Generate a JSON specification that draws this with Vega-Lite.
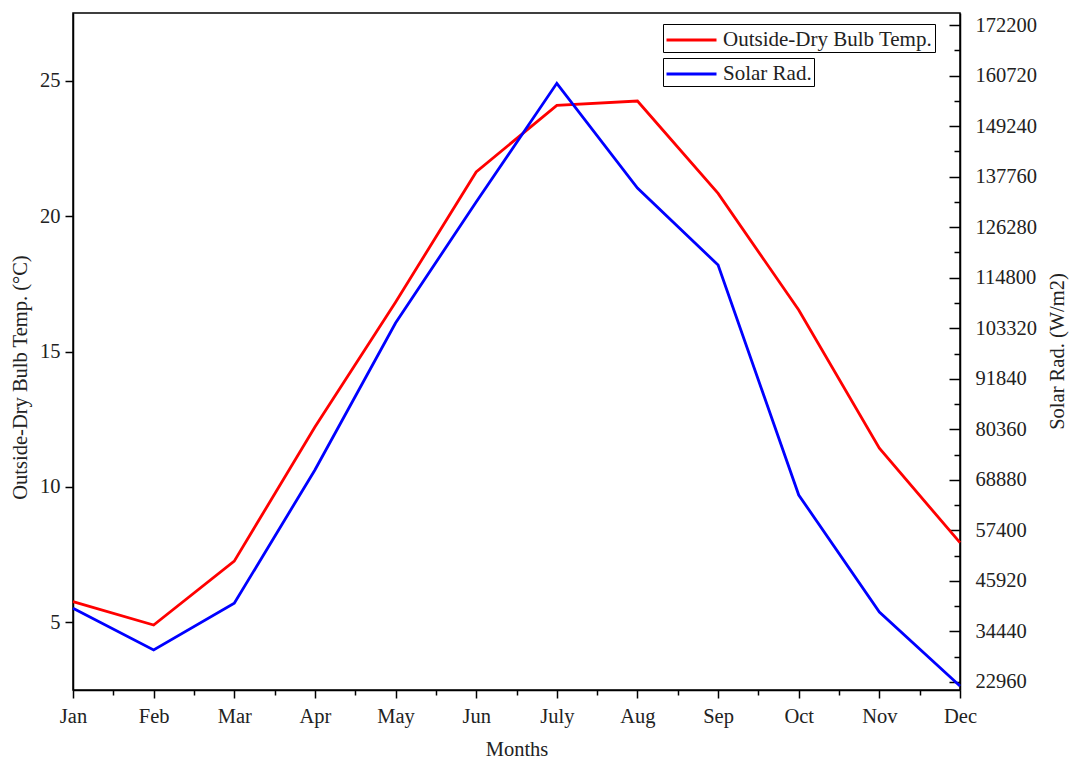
{
  "$schema": "https://vega.github.io/schema/vega-lite/v6.json",
  "width": 887,
  "height": 677,
  "autosize": "none",
  "padding": {"left": 73, "top": 13, "right": 110, "bottom": 70},
  "background": "white",
  "config": {
    "view": {"stroke": "black", "strokeWidth": 1.5},
    "axis": {
      "labelFont": "Liberation Serif",
      "titleFont": "Liberation Serif",
      "labelFontSize": 20.5,
      "titleFontSize": 20.5,
      "titleFontWeight": "normal",
      "labelColor": "#222222",
      "titleColor": "#222222",
      "domainColor": "black",
      "domainWidth": 1.5,
      "tickColor": "black",
      "tickWidth": 1.5,
      "grid": false,
      "labelOverlap": false,
      "labelFlush": false,
      "labelBound": false
    },
    "legend": {
      "labelFont": "Liberation Serif",
      "labelFontSize": 21,
      "labelColor": "#222222",
      "labelLimit": 0
    }
  },
  "data": {
    "values": [
      {"m": 1, "month": "Jan", "temp": 5.76, "solar": 39701},
      {"m": 2, "month": "Feb", "temp": 4.90, "solar": 30229},
      {"m": 3, "month": "Mar", "temp": 7.26, "solar": 40837},
      {"m": 4, "month": "Apr", "temp": 12.21, "solar": 71116},
      {"m": 5, "month": "May", "temp": 16.82, "solar": 104507},
      {"m": 6, "month": "Jun", "temp": 21.63, "solar": 131992},
      {"m": 7, "month": "July", "temp": 24.09, "solar": 158954},
      {"m": 8, "month": "Aug", "temp": 24.25, "solar": 135172},
      {"m": 9, "month": "Sep", "temp": 20.84, "solar": 117681},
      {"m": 10, "month": "Oct", "temp": 16.53, "solar": 65437},
      {"m": 11, "month": "Nov", "temp": 11.43, "solar": 38861},
      {"m": 12, "month": "Dec", "temp": 7.94, "solar": 22051}
    ]
  },
  "encoding": {
    "x": {
      "field": "m",
      "type": "quantitative",
      "scale": {"domain": [1, 12], "nice": false, "zero": false},
      "axis": {
        "title": "Months",
        "values": [1, 1.5, 2, 2.5, 3, 3.5, 4, 4.5, 5, 5.5, 6, 6.5, 7, 7.5, 8, 8.5, 9, 9.5, 10, 10.5, 11, 11.5, 12],
        "labelExpr": "datum.value % 1 === 0 ? ['Jan','Feb','Mar','Apr','May','Jun','July','Aug','Sep','Oct','Nov','Dec'][datum.value - 1] : ''",
        "tickSize": {"condition": {"test": "datum.value % 1 === 0", "value": 8}, "value": 5},
        "labelPadding": 8,
        "titleY": 59,
        "titleBaseline": "middle"
      }
    }
  },
  "layer": [
    {
      "mark": {"type": "line", "strokeWidth": 2.8},
      "encoding": {
        "y": {
          "field": "temp",
          "type": "quantitative",
          "scale": {"domain": [2.5, 27.5], "nice": false, "zero": false},
          "axis": {
            "orient": "left",
            "title": "Outside-Dry Bulb Temp. (°C)",
            "values": [5, 10, 15, 20, 25],
            "tickSize": 8,
            "labelPadding": 5,
            "titleX": -53,
            "titleY": 364,
            "titleAngle": 270,
            "titleBaseline": "middle",
            "titleAlign": "center"
          }
        },
        "color": {
          "datum": "Outside-Dry Bulb Temp.",
          "type": "nominal",
          "scale": {"range": ["#ff0000"]},
          "legend": {
            "title": null,
            "orient": "none",
            "legendX": 590,
            "legendY": 11,
            "strokeColor": "black",
            "padding": 2,
            "symbolType": "M-1,0H3",
            "symbolSize": 625,
            "symbolStrokeWidth": 3,
            "labelOffset": 30,
            "labelLimit": 0
          }
        }
      }
    },
    {
      "mark": {"type": "line", "strokeWidth": 2.8},
      "encoding": {
        "y": {
          "field": "solar",
          "type": "quantitative",
          "scale": {"domain": [21140, 174930], "nice": false, "zero": false},
          "axis": {
            "orient": "right",
            "title": "Solar Rad. (W/m2)",
            "values": [22960, 28700, 34440, 40180, 45920, 51660, 57400, 63140, 68880, 74620, 80360, 86100, 91840, 97580, 103320, 109060, 114800, 120540, 126280, 132020, 137760, 143500, 149240, 154980, 160720, 166460, 172200],
            "labelExpr": "datum.value % 11480 === 0 ? format(datum.value, 'd') : ''",
            "tickSize": {"condition": {"test": "datum.value % 11480 === 0", "value": -11}, "value": -6},
            "labelPadding": 26,
            "titleX": 97,
            "titleY": 338,
            "titleAngle": 270,
            "titleBaseline": "middle",
            "titleAlign": "center"
          }
        },
        "color": {
          "datum": "Solar Rad.",
          "type": "nominal",
          "scale": {"range": ["#0000ff"]},
          "legend": {
            "title": null,
            "orient": "none",
            "legendX": 590,
            "legendY": 45,
            "strokeColor": "black",
            "padding": 2,
            "symbolType": "M-1,0H3",
            "symbolSize": 625,
            "symbolStrokeWidth": 3,
            "labelOffset": 30,
            "labelLimit": 0
          }
        }
      }
    }
  ],
  "resolve": {"scale": {"y": "independent", "color": "independent"}}
}
